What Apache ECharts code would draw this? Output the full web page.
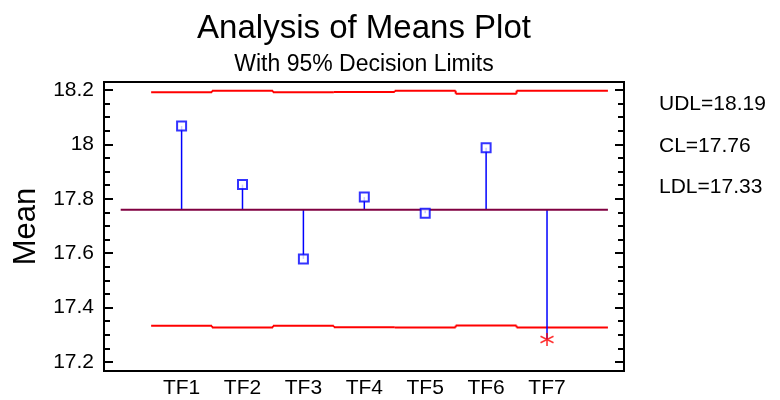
<!DOCTYPE html>
<html>
<head>
<meta charset="utf-8">
<script src="https://cdn.jsdelivr.net/npm/echarts@6/dist/echarts.min.js"></script>
<style>html,body{margin:0;padding:0;background:#fff;}#c{width:780px;height:400px;}</style>
</head>
<body>
<div id="c"></div>
<script>
const categories = ['TF1', 'TF2', 'TF3', 'TF4', 'TF5', 'TF6', 'TF7'];
const xPos = [1, 2, 3, 4, 5, 6, 7];
const means = [18.067, 17.852, 17.579, 17.806, 17.747, 17.987, 17.283];
const centerLine = 17.76;
const udl = [18.191, 18.197, 18.191, 18.192, 18.197, 18.186, 18.197];
const ldl = [17.333, 17.327, 17.333, 17.328, 17.327, 17.334, 17.327];
const limitBounds = [0.5, 1.5, 2.5, 3.5, 4.5, 5.5, 6.5, 8.0];
const centerRange = [0, 8.0];
const yTicks = [17.2, 17.4, 17.6, 17.8, 18.0, 18.2];
const yMinorTicks = [17.25, 17.3, 17.35, 17.45, 17.5, 17.55, 17.65, 17.7, 17.75, 17.85, 17.9, 17.95, 18.05, 18.1, 18.15];
const limitLabels = ['UDL=18.19', 'CL=17.76', 'LDL=17.33'];
const titleText = 'Analysis of Means Plot';
const subtitleText = 'With 95% Decision Limits';
const yName = 'Mean';

const FONT = "'Liberation Sans', Arial, sans-serif";
const Y_MIN = 17.167, Y_MAX = 18.229;
const X_MIN = -0.274, X_MAX = 8.264;

const chart = echarts.init(document.getElementById('c'), null, {renderer: 'canvas'});

function yAx(pos, ticks, len, labels) {
  return {
    type: 'value', position: pos, offset: 0, min: Y_MIN, max: Y_MAX,
    name: (labels ? yName : ''), nameLocation: 'middle', nameGap: 61,
    nameTextStyle: {fontFamily: FONT, fontSize: 31, color: '#000'},
    axisLine: {show: false, onZero: false},
    splitLine: {show: false},
    axisTick: {show: true, inside: true, length: len, customValues: ticks, lineStyle: {color: '#000', width: 2}},
    axisLabel: labels ? {show: true, customValues: ticks, fontFamily: FONT, fontSize: 21, color: '#000', margin: 10} : {show: false}
  };
}

function stepSeries(name, vals) {
  return {
    type: 'custom', name: name, z: 3,
    data: vals.map((v, i) => [limitBounds[i], limitBounds[i + 1], v, i > 0 ? vals[i - 1] : v]),
    renderItem: function (params, api) {
      const a = api.coord([api.value(0), api.value(2)]);
      const b = api.coord([api.value(1), api.value(2)]);
      const p = api.coord([api.value(0), api.value(3)]);
      const style = {stroke: '#ff0000', lineWidth: 2};
      return {type: 'group', children: [
        {type: 'line', shape: {x1: a[0], y1: a[1], x2: b[0], y2: b[1]}, style: style},
        {type: 'line', shape: {x1: p[0], y1: p[1], x2: a[0], y2: a[1]}, style: style}
      ]};
    }
  };
}

const option = {
  animation: false,
  backgroundColor: '#fff',
  grid: {left: 104, right: 156, top: 82, bottom: 29, containLabel: false, outerBoundsMode: 'none',
    show: true, borderColor: '#000', borderWidth: 2, backgroundColor: 'transparent'},
  xAxis: {
    type: 'value', min: X_MIN, max: X_MAX,
    axisLine: {show: false, onZero: false}, axisTick: {show: false}, splitLine: {show: false},
    axisLabel: {
      customValues: xPos,
      formatter: v => categories[xPos.indexOf(v)] || '',
      fontFamily: FONT, fontSize: 21, color: '#000', margin: 7
    }
  },
  yAxis: [
    yAx('left', yTicks, 9, true),
    yAx('left', yMinorTicks, 6, false),
    yAx('right', yTicks, 9, false),
    yAx('right', yMinorTicks, 6, false)
  ],
  graphic: [
    {type: 'text', x: 364, y: 29, style: {text: titleText, font: '33px ' + FONT, fill: '#000', textAlign: 'center', textVerticalAlign: 'middle'}},
    {type: 'text', x: 364, y: 65, style: {text: subtitleText, font: '23px ' + FONT, fill: '#000', textAlign: 'center', textVerticalAlign: 'middle'}},
    {type: 'text', x: 659, y: 104, style: {text: limitLabels[0], font: '21px ' + FONT, fill: '#000', textAlign: 'left', textVerticalAlign: 'middle'}},
    {type: 'text', x: 659, y: 146, style: {text: limitLabels[1], font: '21px ' + FONT, fill: '#000', textAlign: 'left', textVerticalAlign: 'middle'}},
    {type: 'text', x: 659, y: 187, style: {text: limitLabels[2], font: '21px ' + FONT, fill: '#000', textAlign: 'left', textVerticalAlign: 'middle'}}
  ],
  series: [
    stepSeries('UDL', udl),
    stepSeries('LDL', ldl),
    {type: 'line', name: 'CL', data: centerRange.map(x => [x, centerLine]), symbol: 'none', lineStyle: {color: '#800040', width: 2}, z: 4},
    {
      type: 'custom', name: 'stems', z: 3,
      data: xPos.map((x, i) => [x, means[i]]),
      renderItem: function (params, api) {
        const x = api.value(0), m = api.value(1);
        const p0 = api.coord([x, centerLine]);
        const p1 = api.coord([x, m]);
        return {type: 'line', shape: {x1: p0[0], y1: p0[1], x2: p1[0], y2: p1[1]}, style: {stroke: '#0000ff', lineWidth: 1.5}};
      }
    },
    {
      type: 'scatter', name: 'means', z: 6,
      data: xPos.map((x, i) => {
        const out = means[i] < ldl[i] || means[i] > udl[i];
        if (out) {
          return {value: [x, means[i]], symbol: 'path://M0,-10L0,10M-8.66,-5L8.66,5M-8.66,5L8.66,-5', symbolSize: 13,
            itemStyle: {color: 'none', borderColor: '#ff0000', borderWidth: 1.6}};
        }
        return {value: [x, means[i]], symbol: 'rect', symbolSize: 9,
          itemStyle: {color: '#ffffff', borderColor: '#0000ff', borderWidth: 2}};
      })
    }
  ]
};
chart.setOption(option);
</script>
</body>
</html>
